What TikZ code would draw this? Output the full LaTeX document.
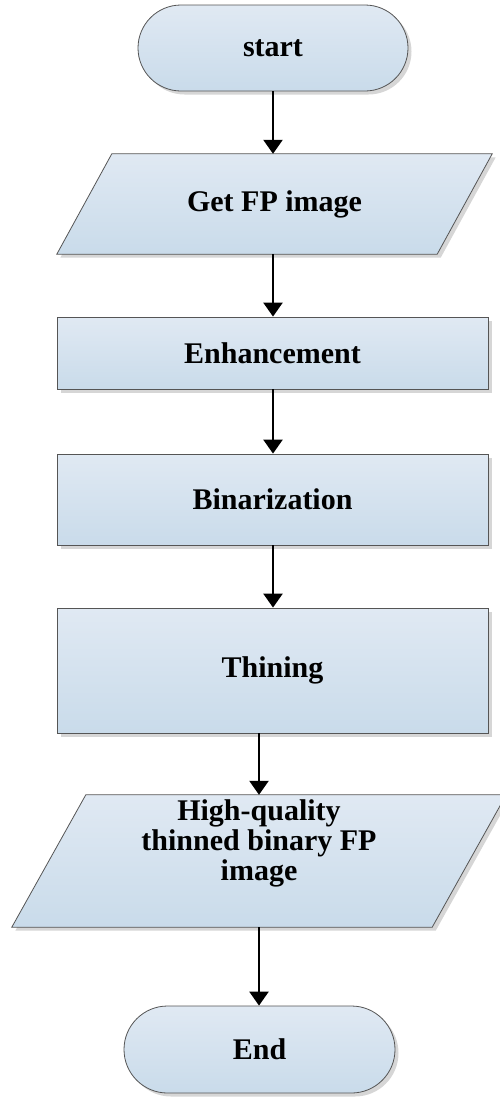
\documentclass[tikz,border=0pt]{standalone}
\usepackage{fontspec}
\setmainfont{Liberation Serif}
\usetikzlibrary{shapes.misc,shadows,arrows.meta,backgrounds}
\definecolor{fillTop}{HTML}{E0E9F3}
\definecolor{fillBot}{HTML}{C9DBEA}
\definecolor{edgeGray}{HTML}{555555}
\begin{document}
\begin{tikzpicture}[x=1pt,y=-1pt,
  skin/.style={draw=edgeGray, line width=0.8pt, top color=fillTop, bottom color=fillBot,
    drop shadow={shadow xshift=3.5pt, shadow yshift=-3.5pt, fill=black!16, opacity=1}},
  label text/.style={font=\bfseries\fontsize{30}{30}\selectfont, align=center, inner sep=0pt},
  box/.style={skin, label text},
  procbox/.style={box, rectangle, minimum width=431pt},
  termbox/.style={box, rounded rectangle, minimum width=270pt, minimum height=86pt},
  iobody/.style={rectangle, label text},
  flow/.style={line width=2.4pt, -{Triangle[width=19pt,length=14pt]}}
]
\useasboundingbox (0,0) rectangle (499,1103);

% flowchart blocks
\node[termbox] (start) at (273,48) {start};
\node[iobody, minimum width=380pt, minimum height=100pt] (getfp) at (274.5,204) {Get FP image};
\node[procbox, minimum height=72pt] (enh) at (272.5,353) {Enhancement};
\node[procbox, minimum height=91pt] (bin) at (272.5,499.5) {Binarization};
\node[procbox, minimum height=125pt] (thin) at (272.5,670.5) {Thining};
\node[iobody, minimum width=420pt, minimum height=132pt] (hq) at (259,861) {};
\node[label text] (hqtext) at ([yshift=18pt]hq.center) {High-quality\\thinned binary FP\\image};
\node[termbox, minimum width=271pt, minimum height=87pt] (end) at (259.5,1049.5) {End};

% slanted input/output outlines behind their texts
\begin{pgfonlayer}{background}
  \path[skin] ([xshift=-27.5pt]getfp.south west) -- ([xshift=-27.5pt]getfp.south east)
    -- ([xshift=27.5pt]getfp.north east) -- ([xshift=27.5pt]getfp.north west) -- cycle;
  \path[skin] ([xshift=-37pt]hq.south west) -- ([xshift=-37pt]hq.south east)
    -- ([xshift=37pt]hq.north east) -- ([xshift=37pt]hq.north west) -- cycle;
\end{pgfonlayer}

% connectors
\draw[flow] (start.south) -- (start.south |- getfp.north);
\draw[flow] (start.south |- getfp.south) -- (start.south |- enh.north);
\draw[flow] (start.south |- enh.south) -- (start.south |- bin.north);
\draw[flow] (start.south |- bin.south) -- (start.south |- thin.north);
\draw[flow] (hq.north |- thin.south) -- (hq.north);
\draw[flow] (hq.south) -- (hq.south |- end.north);
\end{tikzpicture}
\end{document}
